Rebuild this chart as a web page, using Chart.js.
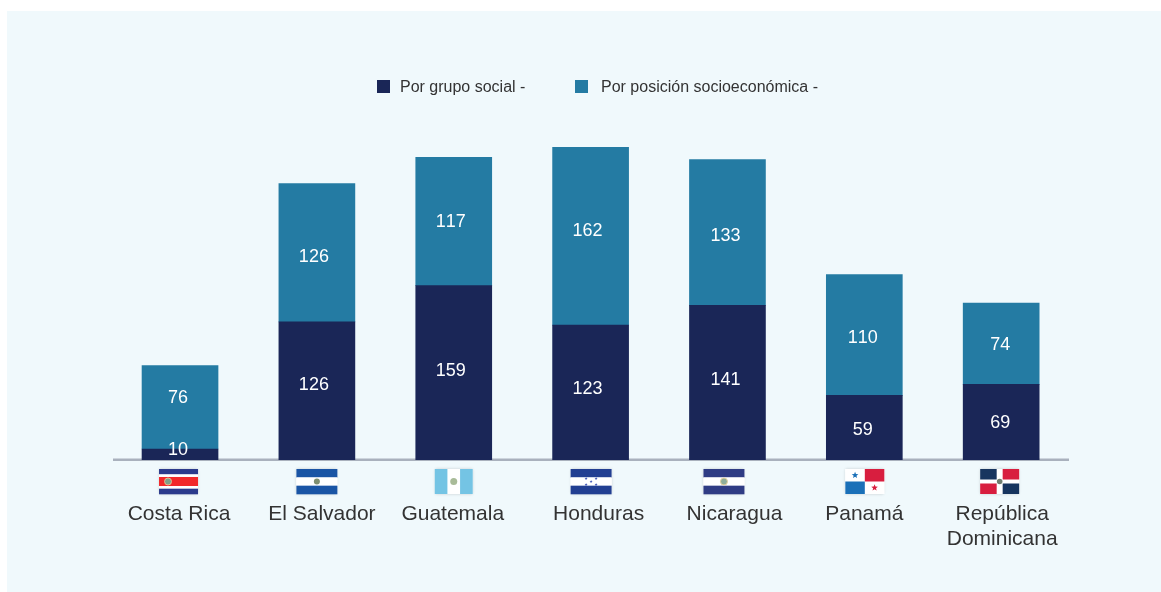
<!DOCTYPE html>
<html>
<head>
<meta charset="utf-8">
<title>Por grupo social y posición socioeconómica</title>
<script src="https://cdn.jsdelivr.net/npm/chart.js@4"></script>
<style>
  html, body { margin: 0; padding: 0; background: #fff; }
  #panel { position: absolute; left: 7px; top: 11px; right: 0; bottom: 0; background: #f0f9fc; }
  #wrap { position: absolute; left: 0; top: 0; width: 1161px; height: 592px; }
</style>
</head>
<body>
<div id="panel"></div>
<div id="wrap"><canvas id="chart" width="1161" height="592"></canvas></div>
<script>
const categories = ['Costa Rica', 'El Salvador', 'Guatemala', 'Honduras', 'Nicaragua', 'Panamá', 'República Dominicana']
const seriesNames = ['Por grupo social -', 'Por posición socioeconómica -']
const grupoSocial = [10, 126, 159, 123, 141, 59, 69]
const posicionSocio = [76, 126, 117, 162, 133, 110, 74]

// hand placement from the original, not data
const tickLines = [['Costa Rica'], ['El Salvador'], ['Guatemala'], ['Honduras'], ['Nicaragua'], ['Panamá'], ['República', 'Dominicana']]
const tickShift = [-1, 5, -1, 8, 7, 0, 1]
const flagShift = [-1.5, 0, 0, 0.5, -3.5, 0.5, -1.5]
const flagWidth = [39, 41, 38, 41, 41, 39, 39]
const labelShiftX = [-2, -3, -3, -3, -2, -1.5, -1]
const grupoLabelShift = [-4, -6, -2, -4, -3, 2, 1]
const posicionLabelShift = [-9, 4, 1, -5, 4, 3, 1]

const FONT = '"Liberation Sans", Arial, sans-serif'
const NAVY = '#1a2657'
const TEAL = '#247ba3'

function bands(ctx, x, y, w, h, rows) {
  const total = rows.reduce((a, r) => a + r[1], 0)
  let top = y
  rows.forEach(r => {
    const bandH = h * r[1] / total
    ctx.fillStyle = r[0]
    ctx.fillRect(x, top, w, bandH + 0.3)
    top += bandH
  })
}

function emblem(ctx, x, y, r, fill, stroke) {
  ctx.beginPath()
  ctx.arc(x, y, r, 0, Math.PI * 2)
  ctx.fillStyle = fill
  ctx.fill()
  if (stroke) {
    ctx.strokeStyle = stroke
    ctx.lineWidth = 1
    ctx.stroke()
  }
}

function star(ctx, x, y, r, fill) {
  ctx.beginPath()
  for (let i = 0; i < 10; i++) {
    const rad = i % 2 ? r * 0.42 : r
    const a = -Math.PI / 2 + i * Math.PI / 5
    ctx.lineTo(x + rad * Math.cos(a), y + rad * Math.sin(a))
  }
  ctx.closePath()
  ctx.fillStyle = fill
  ctx.fill()
}

// little flags under the axis, one painter per country
const flagPainters = [
  (c, x, y, w, h) => {
    bands(c, x, y, w, h, [['#2b3a8c', 2], ['#fff', 1], ['#f2282a', 3.4], ['#fff', 1], ['#2b3a8c', 2]])
    emblem(c, x + 9, y + h / 2, 3.5, '#7fa08a', '#e8b98a')
  },
  (c, x, y, w, h) => {
    bands(c, x, y, w, h, [['#1a55a5', 1], ['#fff', 1], ['#1a55a5', 1]])
    emblem(c, x + w / 2, y + h / 2, 3, '#7f8f70')
  },
  (c, x, y, w, h) => {
    c.fillStyle = '#74c4e4'
    c.fillRect(x, y, w, h)
    c.fillStyle = '#fff'
    c.fillRect(x + w / 3, y, w / 3, h)
    emblem(c, x + w / 2, y + h / 2, 3.5, '#a8bb98')
  },
  (c, x, y, w, h) => {
    bands(c, x, y, w, h, [['#223f92', 1], ['#fff', 1], ['#223f92', 1]])
    ;[[-5, -3], [5, -3], [0, 0], [-5, 3], [5, 3]].forEach(p => star(c, x + w / 2 + p[0], y + h / 2 + p[1], 1.6, '#3f55b5'))
  },
  (c, x, y, w, h) => {
    bands(c, x, y, w, h, [['#2f3c84', 1], ['#fff', 1], ['#2f3c84', 1]])
    emblem(c, x + w / 2, y + h / 2, 3.5, '#8fae9a', '#e6d29a')
  },
  (c, x, y, w, h) => {
    c.fillStyle = '#fff'
    c.fillRect(x, y, w, h)
    c.fillStyle = '#d81e3f'
    c.fillRect(x + w / 2, y, w / 2, h / 2)
    c.fillStyle = '#1a70b8'
    c.fillRect(x, y + h / 2, w / 2, h / 2)
    star(c, x + w / 4, y + h / 4, 3.5, '#1a70b8')
    star(c, x + w * 3 / 4, y + h * 3 / 4, 3.5, '#d81e3f')
  },
  (c, x, y, w, h) => {
    c.fillStyle = '#fff'
    c.fillRect(x, y, w, h)
    const gapX = 6, gapY = 4
    const cw = (w - gapX) / 2, ch = (h - gapY) / 2
    c.fillStyle = '#17355f'
    c.fillRect(x, y, cw, ch)
    c.fillRect(x + cw + gapX, y + ch + gapY, cw, ch)
    c.fillStyle = '#d81e3f'
    c.fillRect(x + cw + gapX, y, cw, ch)
    c.fillRect(x, y + ch + gapY, cw, ch)
    emblem(c, x + w / 2, y + h / 2, 2.8, '#6f7f70')
  }
]

const legendAndFlags = {
  id: 'legendAndFlags',
  beforeDatasetsDraw(chart) {
    // axis line stops a little short of the band edges
    const ctx = chart.ctx
    ctx.fillStyle = '#a9b1bd'
    ctx.fillRect(113, chart.chartArea.bottom - 1.5, 956, 2.5)
  },
  afterDraw(chart) {
    const ctx = chart.ctx
    const x = chart.scales.x
    ctx.save()
    ctx.fontKerning = 'none'

    // legend, the built in one can't do these gaps
    ctx.font = '16px ' + FONT
    ctx.textBaseline = 'middle'
    ctx.textAlign = 'left'
    const legendBox = [377, 575]
    const legendText = [400, 601]
    chart.data.datasets.forEach((ds, i) => {
      ctx.fillStyle = ds.backgroundColor
      ctx.fillRect(legendBox[i], 80, 13, 13)
      ctx.fillStyle = '#333'
      ctx.fillText(ds.label, legendText[i], 88)
    })

    // flags and country names
    categories.forEach((name, i) => {
      const cx = x.getPixelForValue(i)
      const fx = cx + flagShift[i] - flagWidth[i] / 2
      ctx.save()
      ctx.shadowColor = 'rgba(0,0,0,0.18)'
      ctx.shadowBlur = 3
      ctx.fillStyle = '#fff'
      ctx.fillRect(fx, 469, flagWidth[i], 25)
      ctx.restore()
      flagPainters[i](ctx, fx, 469, flagWidth[i], 25)

      ctx.font = '21px ' + FONT
      ctx.textAlign = 'center'
      ctx.fillStyle = '#333'
      tickLines[i].forEach((line, n) => {
        ctx.fillText(line, cx + tickShift[i], 514 + n * 25.5)
      })
    })

    // values inside the bars
    ctx.font = '18px ' + FONT
    ctx.fillStyle = '#fff'
    const shifts = [grupoLabelShift, posicionLabelShift]
    chart.data.datasets.forEach((ds, d) => {
      chart.getDatasetMeta(d).data.forEach((bar, i) => {
        const mid = (bar.y + bar.base) / 2
        ctx.fillText(String(ds.data[i]), bar.x + labelShiftX[i], mid + shifts[d][i])
      })
    })
    ctx.restore()
  }
}

new Chart(document.getElementById('chart').getContext('2d'), {
  type: 'bar',
  data: {
    labels: categories,
    datasets: [
      { label: seriesNames[0], data: grupoSocial, backgroundColor: NAVY, barThickness: 76 },
      { label: seriesNames[1], data: posicionSocio, backgroundColor: TEAL, barThickness: 76 }
    ]
  },
  options: {
    responsive: false,
    animation: false,
    layout: { padding: { left: 111.6, right: 91.4, top: 131, bottom: 132 } },
    plugins: { legend: { display: false }, tooltip: { enabled: false } },
    scales: {
      x: {
        stacked: true,
        afterFit: s => { s.height = 0 },
        ticks: { display: false },
        grid: { display: false, drawTicks: false },
        border: { display: false }
      },
      y: { stacked: true, display: false, min: 0, max: 300 }
    }
  },
  plugins: [legendAndFlags]
})
</script>
</body>
</html>
